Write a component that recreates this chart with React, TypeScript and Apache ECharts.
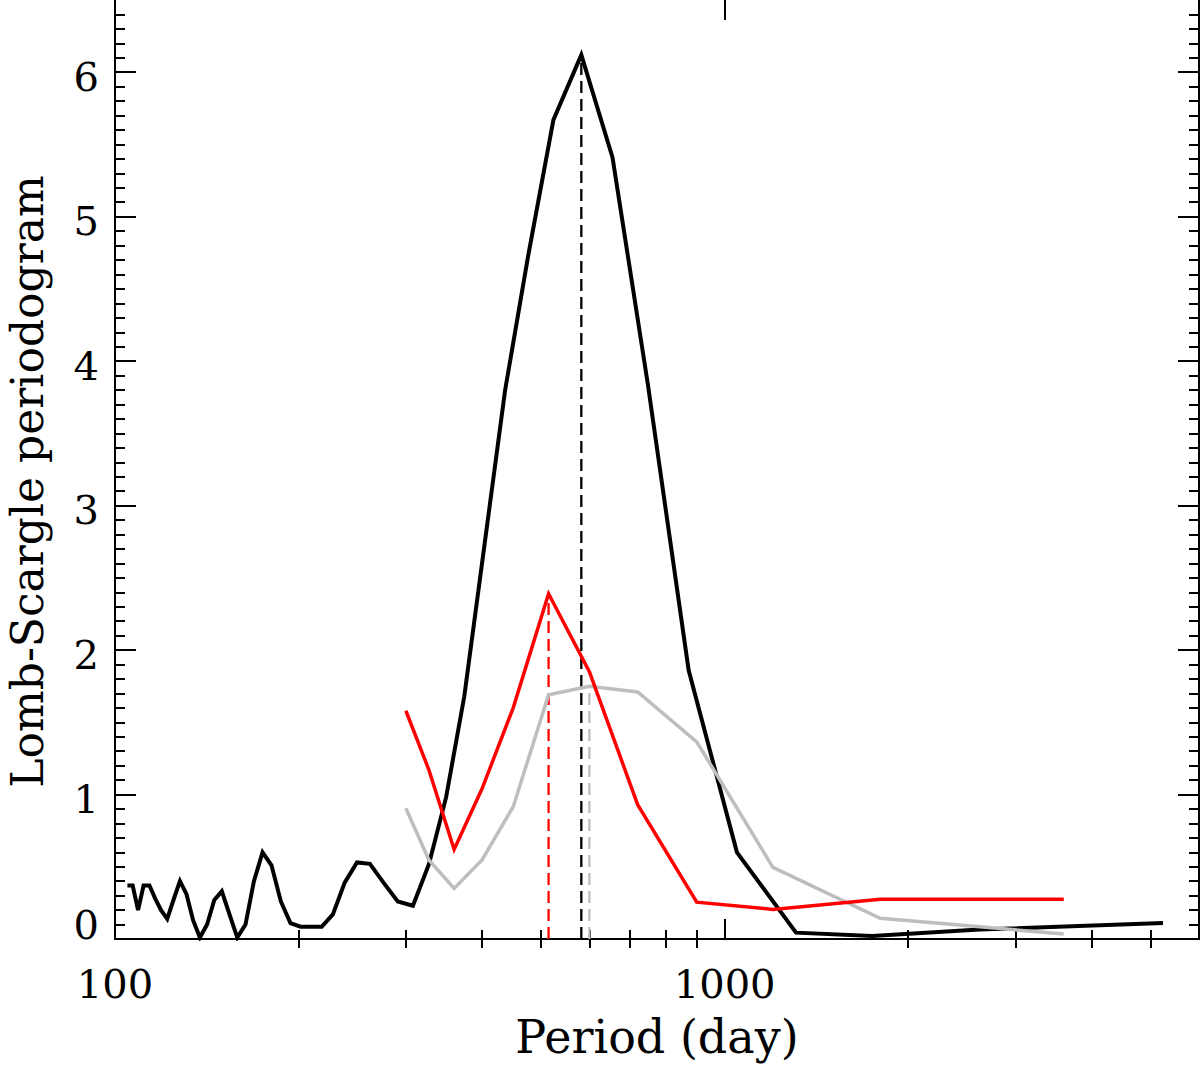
import React, { useEffect, useRef } from "react";
import * as echarts from "echarts";

// Black periodogram (period in days, power)
const blackPeriods = [
  104.8, 106.9, 109.1, 111.4, 113.9, 116.4, 119.0, 121.8, 124.7, 127.8,
  131.0, 134.3, 137.8, 141.6, 145.5, 149.7, 154.1, 158.7, 163.7, 169.0,
  174.6, 180.6, 187.1, 194.0, 201.5, 209.5, 218.3, 227.7, 238.1, 249.4,
  261.9, 275.7, 291.0, 308.1, 327.4, 349.2, 374.1, 402.9, 436.5, 476.2,
  523.8, 582.0, 654.8, 748.3, 873.0, 1047.6, 1309.5, 1746.0, 2619.0, 5238.0,
];
const blackValues = [
  0.37, 0.37, 0.2, 0.37, 0.37, 0.28, 0.2, 0.14, 0.27, 0.4,
  0.31, 0.13, 0.01, 0.1, 0.27, 0.33, 0.17, 0.01, 0.1, 0.4,
  0.6, 0.51, 0.26, 0.11, 0.085, 0.085, 0.085, 0.17, 0.39, 0.53,
  0.52, 0.39, 0.26, 0.23, 0.52, 0.98, 1.68, 2.7, 3.8, 4.73,
  5.67, 6.12, 5.41, 3.84, 1.86, 0.6, 0.044, 0.021, 0.066, 0.11,
];

// Red and grey periodograms share a coarser period grid
const coarsePeriods = [300, 327.3, 360, 400, 450, 514.3, 600, 720, 900, 1200, 1800, 3600];
const redValues = [1.58, 1.17, 0.62, 1.04, 1.6, 2.39, 1.85, 0.93, 0.255, 0.205, 0.275, 0.275];
const grayValues = [0.905, 0.547, 0.35, 0.547, 0.916, 1.69, 1.75, 1.71, 1.365, 0.496, 0.143, 0.035];

// Peak markers (dashed verticals)
const peakPeriods = [582.0, 514.3, 600];
const peakValues = [6.12, 2.39, 1.75];
const peakColors = ["#000000", "#ff0000", "#bebebe"];

// Axis ticks
const xMajorTicks = [100, 1000];
const xMinorTicks = [200, 300, 400, 500, 600, 700, 800, 900, 2000, 3000, 4000, 5000];
const yMajorTicks = [0, 1, 2, 3, 4, 5, 6];
const X_MIN = 100;
const X_MAX = 6000;
const Y_MIN = 0;
const Y_MAX = 6.5;

const FONT = "'DejaVu Serif', serif";

export default function App() {
  const ref = useRef<HTMLDivElement>(null);

  useEffect(() => {
    if (!ref.current) return;
    const chart = echarts.init(ref.current, undefined, { renderer: "svg" });

    const yMinorTicks: number[] = [];
    for (let i = 1; i < Y_MAX * 10; i++) {
      if (i % 10 !== 0) yMinorTicks.push(i / 10);
    }
    const lx = (v: number) => Math.log10(v);
    const lxMin = lx(X_MIN);
    const lxMax = lx(X_MAX);

    const axisLineStyle = { color: "#000", width: 2 };

    const tickXAxis = (position: string, values: number[], len: number, labels: boolean, line: boolean) => ({
      type: "value",
      position,
      min: lxMin,
      max: lxMax,
      axisLine: { show: line, lineStyle: axisLineStyle },
      axisTick: {
        show: true,
        inside: true,
        length: len,
        lineStyle: { color: "#000", width: 2 },
        customValues: values.map(lx),
      },
      axisLabel: labels
        ? {
            show: true,
            customValues: values.map(lx),
            formatter: (v: number) => String(Math.round(Math.pow(10, v))),
            color: "#000",
            fontFamily: FONT,
            fontSize: 40,
            margin: 25,
          }
        : { show: false },
      splitLine: { show: false },
    });

    const tickYAxis = (position: string, values: number[], len: number, labels: boolean, line: boolean) => ({
      type: "value",
      position,
      min: Y_MIN,
      max: Y_MAX,
      axisLine: { show: line, lineStyle: axisLineStyle },
      axisTick: {
        show: true,
        inside: true,
        length: len,
        lineStyle: { color: "#000", width: 2 },
        customValues: values,
      },
      axisLabel: labels
        ? {
            show: true,
            customValues: values,
            formatter: (v: number) => (v === 0 ? `{z|0}` : `{n|${v}}`),
            color: "#000",
            fontFamily: FONT,
            fontSize: 40,
            margin: 16,
            rich: {
              z: { fontFamily: FONT, fontSize: 40, color: "#000", padding: [0, 0, 28, 0] },
              n: { fontFamily: FONT, fontSize: 40, color: "#000", padding: [9, 0, 0, 0] },
            },
          }
        : { show: false },
      splitLine: { show: false },
    });

    const lineSeries = (name: string, xs: number[], ys: number[], color: string, width: number) => ({
      name,
      type: "line",
      xAxisIndex: 0,
      yAxisIndex: 0,
      data: xs.map((x, i) => [x, ys[i]]),
      showSymbol: false,
      symbol: "none",
      lineStyle: { color, width, join: "miter" },
      silent: true,
      z: 3,
    });

    const dashedSeries = peakPeriods.map((p, i) => ({
      name: `peak${i}`,
      type: "line",
      xAxisIndex: 0,
      yAxisIndex: 0,
      data: [
        [p, 0],
        [p, peakValues[i]],
      ],
      showSymbol: false,
      symbol: "none",
      lineStyle: { color: peakColors[i], width: 2.3, type: [12, 6] },
      silent: true,
      z: 2,
    }));

    chart.setOption({
      animation: false,
      backgroundColor: "#fff",
      grid: {
        left: 115,
        right: 1,
        top: 0,
        bottom: 131,
        containLabel: false,
        outerBoundsMode: "none",
      },
      xAxis: [
        {
          type: "log",
          logBase: 10,
          position: "bottom",
          min: X_MIN,
          max: X_MAX,
          axisLine: { show: true, lineStyle: axisLineStyle },
          axisTick: { show: false },
          axisLabel: { show: false },
          splitLine: { show: false },
          name: "Period (day)",
          nameLocation: "middle",
          nameGap: 75,
          nameMoveOverlap: false,
          nameTextStyle: { color: "#000", fontFamily: FONT, fontSize: 46 },
        },
        tickXAxis("bottom", xMinorTicks, 9, false, false),
        tickXAxis("bottom", xMajorTicks, 20, true, false),
        tickXAxis("top", xMinorTicks, 9, false, true),
        tickXAxis("top", xMajorTicks, 20, false, false),
      ],
      yAxis: [
        {
          ...tickYAxis("left", yMajorTicks, 21, true, true),
          name: "Lomb-Scargle periodogram",
          nameLocation: "middle",
          nameGap: 66,
          nameRotate: 90,
          nameMoveOverlap: false,
          nameTextStyle: { color: "#000", fontFamily: FONT, fontSize: 44, padding: [0, 24, 0, 0] },
        },
        tickYAxis("left", yMinorTicks, 10, false, false),
        tickYAxis("right", yMajorTicks, 21, false, true),
        tickYAxis("right", yMinorTicks, 10, false, false),
      ],
      series: [
        lineSeries("black", blackPeriods, blackValues, "#000000", 4),
        lineSeries("gray", coarsePeriods, grayValues, "#bebebe", 3.5),
        lineSeries("red", coarsePeriods, redValues, "#ff0000", 3.5),
        ...dashedSeries,
      ],
    });

    return () => chart.dispose();
  }, []);

  return (
    <div
      ref={ref}
      style={{ position: "absolute", left: 0, top: 0, width: 1200, height: 1070, background: "#fff" }}
    />
  );
}
